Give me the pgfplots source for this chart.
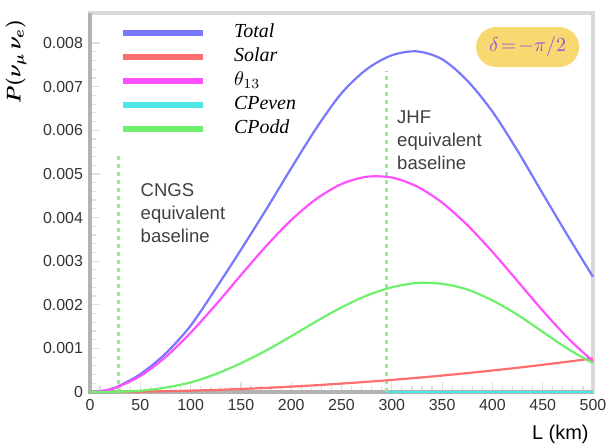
\documentclass[border=0pt]{standalone}
\usepackage{fontspec}
\setmainfont{Liberation Sans}
\newfontfamily\serifit{Liberation Serif}
\usepackage{pgfplots}
\pgfplotsset{compat=1.18}
\definecolor{ctot}{RGB}{120,120,255}
\definecolor{csol}{RGB}{255,110,110}
\definecolor{cth}{RGB}{255,80,255}
\definecolor{ceven}{RGB}{80,230,230}
\definecolor{codd}{RGB}{110,240,110}
\definecolor{cbase}{RGB}{150,235,150}
\definecolor{cbox}{RGB}{248,216,112}
\definecolor{cdelta}{RGB}{140,90,220}

\begin{document}
\begin{tikzpicture}
\begin{axis}[scale only axis,width=251.5bp,height=189.5bp,
xmin=0,xmax=500,ymin=0,ymax=0.00869,clip=false,
xtick={0,50,...,500},
ytick={0,0.001,0.002,0.003,0.004,0.005,0.006,0.007,0.008},
yticklabels={0,0.001,0.002,0.003,0.004,0.005,0.006,0.007,0.008},
scaled y ticks=false,
minor x tick num=4,minor y tick num=4,
tick pos=left,tick align=inside,
major tick length=5bp,minor tick length=3bp,
every tick/.style={gray!25,line width=0.6bp},
axis line style={gray!30,line width=2bp},
tick label style={font=\fontsize{8}{9}\selectfont,text=black!80,/pgf/number format/assume math mode=true},
xlabel={L (km)},
xlabel style={at={(axis description cs:0.935,-0.111)},anchor=center,font=\fontsize{10}{12}\selectfont},
ylabel={$P(\nu_\mu\,\nu_e)$},
ylabel style={at={(axis description cs:-0.147,0.871)},anchor=center,font=\fontsize{10}{12}\selectfont\boldmath},
legend style={at={(0.06,0.979)},anchor=north west,draw=none,fill=none,inner sep=0pt,outer sep=0pt,
  font=\serifit\itshape\fontsize{10}{12}\selectfont,
  nodes={text height=7.5bp,text depth=2.5bp,inner ysep=1bp,inner xsep=2bp},row sep=0pt},
legend cell align=left,
legend image code/.code={\draw[#1,line width=2.8bp] (0bp,0bp) -- (40bp,0bp); \path (53bp,0bp);},
]
\draw[gray!60,line width=1.6bp] (rel axis cs:0,1) -- (rel axis cs:0,0) -- (rel axis cs:1,0);

\addplot[cbase,line width=1.4bp,dash pattern=on 2bp off 2bp,forget plot] coordinates {(28,0) (28,0.00545)};
\addplot[cbase,line width=1.4bp,dash pattern=on 2bp off 2bp,forget plot] coordinates {(295,0) (295,0.00736)};

\addplot[ctot,line width=1.1bp,smooth] coordinates {
(0,0) (10,0.00002) (25,0.0001) (50,0.00041) (75,0.00088) (100,0.00152) (125,0.00237)
(150,0.00326) (175,0.00418) (200,0.00513) (225,0.00605) (250,0.00685) (275,0.0074)
(300,0.00772) (325,0.00781) (350,0.00763) (375,0.00714) (400,0.00643)
(425,0.00553) (450,0.00455) (475,0.00358) (500,0.00264)};
\addlegendentry{Total}

\addplot[csol,line width=1.1bp,smooth] coordinates {
(0,0) (25,0.0000019) (50,0.0000077) (75,0.0000173) (100,0.0000308) (125,0.0000481)
(150,0.0000693) (175,0.0000943) (200,0.000123) (225,0.000156) (250,0.000193)
(275,0.000233) (300,0.000277) (325,0.000325) (350,0.000377) (375,0.000433)
(400,0.000493) (425,0.000556) (450,0.000624) (475,0.000695) (500,0.00077)};
\addlegendentry{Solar}

\addplot[cth,line width=1.1bp,smooth] coordinates {
(0,0) (10,0.000015) (25,0.0000934) (50,0.000366) (75,0.000799) (100,0.001358)
(125,0.002) (150,0.002679) (175,0.003343) (200,0.003941) (225,0.004428)
(250,0.004768) (275,0.004935) (300,0.004916) (325,0.004713) (350,0.004341)
(375,0.003829) (400,0.003213) (425,0.002542) (450,0.001866) (475,0.001238) (500,0.000701)};
\addlegendentry{$\theta_{13}$}

\addplot[ceven,line width=1.1bp] coordinates {(295,0) (350,0) (400,0) (450,0) (500,0)};
\addlegendentry{CPeven}

\addplot[codd,line width=1.1bp,smooth] coordinates {
(0,0) (10,0) (25,0.000004) (50,0.00003) (75,0.0001) (100,0.00022) (125,0.00041)
(150,0.00066) (175,0.00095) (200,0.00128) (225,0.00162) (250,0.00194) (275,0.00221)
(300,0.0024) (325,0.0025) (350,0.00248) (375,0.00235) (400,0.0021) (425,0.00177)
(450,0.00138) (475,0.00099) (500,0.00066)};
\addlegendentry{CPodd}

\node[anchor=north west,align=left,inner sep=0pt,text=black!75,font=\fontsize{9.3}{11.5}\selectfont]
  at (axis cs:50,0.00479) {CNGS\\equivalent\\baseline};
\node[anchor=north west,align=left,inner sep=0pt,text=black!75,font=\fontsize{9.3}{11.5}\selectfont]
  at (axis cs:305,0.00646) {JHF\\equivalent\\baseline};
\node[fill=cbox,rounded corners=10bp,minimum width=51.5bp,minimum height=20bp,inner sep=0pt,
  text=cdelta,font=\fontsize{10}{12}\selectfont] at (axis cs:435,0.00791) {$\delta\!=\!-\pi/2$};
\end{axis}
\pgfresetboundingbox
\path[use as bounding box] (-45bp,-26bp) rectangle (260bp,196bp);
\end{tikzpicture}
\end{document}
